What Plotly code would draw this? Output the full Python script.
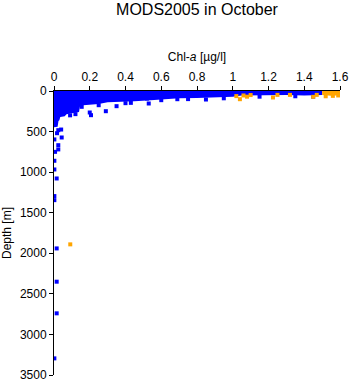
import plotly.graph_objects as go

# Envelope of the dense blue cloud (Chl-a, depth): top edge then bottom edge right->left
env_chl = [-0.006, 1.50, 1.50, 1.40, 1.30, 1.20, 1.10, 1.05, 1.00, 0.90, 0.80, 0.70, 0.60,
           0.54, 0.45, 0.35, 0.30, 0.25, 0.18, 0.146, 0.14, 0.10, 0.07, 0.06, 0.035, 0.03,
           0.025, 0.02, -0.006]
env_depth = [-25, -25, 50, 55, 50, 55, 60, 55, 70, 80, 85, 90, 100,
             115, 125, 130, 140, 160, 170, 180, 260, 270, 285, 310, 320, 360,
             370, 440, 450]

# Orange cloud at high Chl-a
or_env_chl = [1.50, 1.607, 1.607, 1.58, 1.55, 1.52, 1.50]
or_env_depth = [-25, -25, 40, 55, 60, 55, 50]

# Individual blue points
blue_chl = [0.155, 0.20, 0.207, 0.29, 0.35, 0.43, 0.52, 0.60, 0.85, 0.53, 0.69,
            0.002, 0.024, 0.024, 0.006, 0.002, 0.002, 0.015, 0.002, 0.002,
            0.024, 0.04, 0.043, 0.017, 0.015, 0.015, 0.015, 0.002,
            0.12, 0.09, 0.25, 0.40, 0.75, 0.95, 1.15, 1.35, 1.45]
blue_depth = [195, 265, 298, 249, 187, 146, 93, 113, 105, 154, 101,
              597, 668, 720, 750, 860, 967, 1078, 1295, 1345,
              483, 475, 573, 520, 1940, 2350, 2740, 3295,
              285, 300, 175, 150, 100, 90, 70, 65, 70]

# Individual orange points
orange_chl = [1.04, 1.225, 1.25, 1.32, 1.45, 1.47, 1.02, 1.06, 1.08, 1.10, 0.091,
              1.52, 1.56, 1.59]
orange_depth = [101, 80, 48, 48, 72, 48, 63, 55, 70, 50, 1890,
                65, 60, 55]

BLUE = "#0000ff"
ORANGE = "#ffa500"

fig = go.Figure()
fig.add_trace(go.Scatter(x=env_chl, y=env_depth, mode="lines", fill="toself",
                         fillcolor=BLUE, line=dict(width=0, color=BLUE), hoverinfo="skip"))
fig.add_trace(go.Scatter(x=or_env_chl, y=or_env_depth, mode="lines", fill="toself",
                         fillcolor=ORANGE, line=dict(width=0, color=ORANGE), hoverinfo="skip"))
fig.add_trace(go.Scatter(x=blue_chl, y=blue_depth, mode="markers",
                         marker=dict(symbol="square", size=4, color=BLUE, line=dict(width=0))))
fig.add_trace(go.Scatter(x=orange_chl, y=orange_depth, mode="markers",
                         marker=dict(symbol="square", size=4, color=ORANGE, line=dict(width=0))))

font = "Liberation Sans, Arial, sans-serif"
fig.update_layout(
    width=350, height=384,
    margin=dict(l=54, r=10, t=91, b=9, autoexpand=False),
    paper_bgcolor="white", plot_bgcolor="white",
    showlegend=False,
    font=dict(family=font, size=12, color="black"),
    title=dict(text="MODS2005 in October", x=0.5, xanchor="center", xref="paper",
               y=1 - 9 / 384, yanchor="middle", yref="container",
               font=dict(size=16, family=font, color="black")),
    xaxis=dict(side="top", range=[0, 1.6], tickvals=[0, 0.2, 0.4, 0.6, 0.8, 1, 1.2, 1.4, 1.6],
               ticktext=["0", "0.2", "0.4", "0.6", "0.8", "1", "1.2", "1.4", "1.6"],
               ticks="outside", ticklen=4, tickcolor="black", showline=True, linecolor="black",
               linewidth=1, showgrid=False, zeroline=False, automargin=False,
               title=dict(text="Chl-<i>a</i> [µg/l]", standoff=6, font=dict(size=12)),
               tickfont=dict(size=12)),
    yaxis=dict(range=[3500, 0], tickvals=[0, 500, 1000, 1500, 2000, 2500, 3000, 3500],
               ticks="outside", ticklen=4, tickcolor="black", showline=True, linecolor="black",
               linewidth=1, showgrid=False, zeroline=False, automargin=False,
               title=dict(text="Depth [m]", standoff=6, font=dict(size=12)),
               tickfont=dict(size=12)),
)
fig.write_html("out.html")
